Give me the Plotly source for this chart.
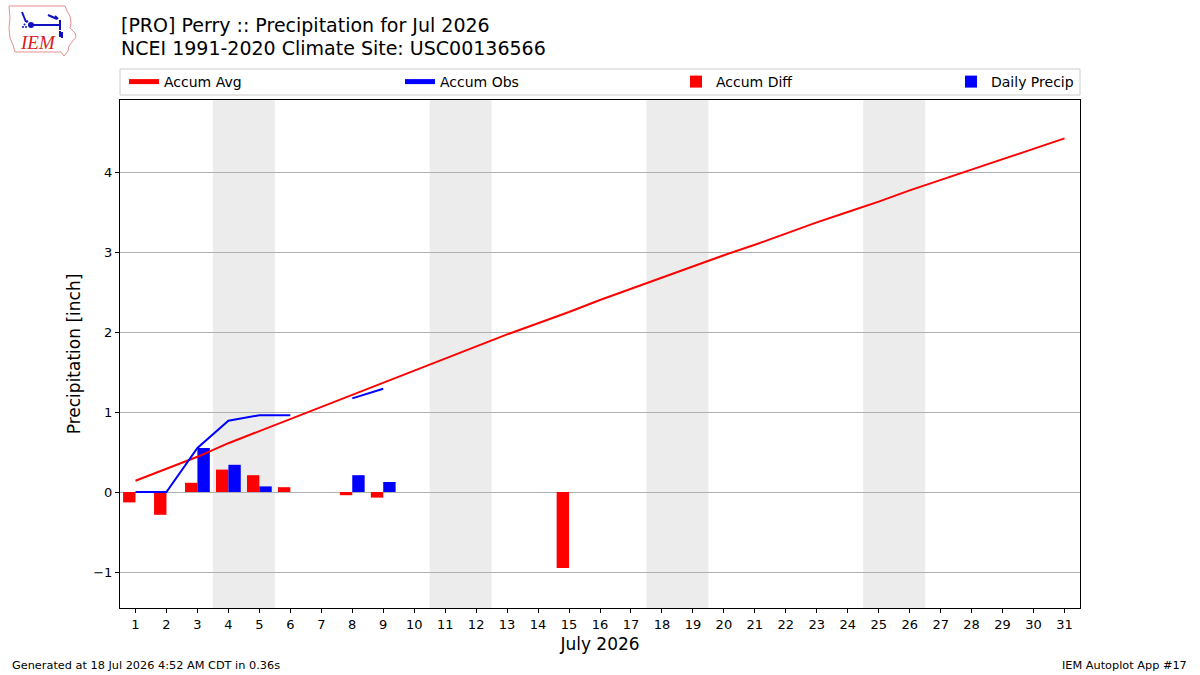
import plotly.graph_objects as go

days = list(range(1, 32))
accum_avg = [0.14, 0.29, 0.44, 0.61, 0.76, 0.91, 1.06, 1.21, 1.36, 1.52, 1.67, 1.82,
             1.97, 2.11, 2.25, 2.40, 2.54, 2.68, 2.82, 2.96, 3.09, 3.23, 3.37, 3.50,
             3.63, 3.77, 3.90, 4.03, 4.16, 4.29, 4.42]
accum_obs = [0.0, 0.0, 0.55, 0.89, 0.96, 0.96, None, 1.17, 1.29] + [None] * 22
accum_diff = [-0.13, -0.285, 0.115, 0.28, 0.21, 0.06, None, -0.04, -0.07,
              None, None, None, None, None, -0.95] + [None] * 16
daily_precip = [0.0, 0.0, 0.55, 0.34, 0.07, 0.0, None, 0.21, 0.125] + [None] * 22
weekend_spans = [(3.5, 5.5), (10.5, 12.5), (17.5, 19.5), (24.5, 26.5)]
xtick_labels = [str(d) for d in days]
yticks = [-1, 0, 1, 2, 3, 4]

title_lines = ["[PRO] Perry :: Precipitation for Jul 2026",
               "NCEI 1991-2020 Climate Site: USC00136566"]

W, H = 1200, 675
L, R, T, B = 120, 1080, 100, 608
FONT = "DejaVu Sans"


def px(x):
    return (x - L) / (R - L)


def py(y):
    return (B - y) / (B - T)


fig = go.Figure()

fig.add_trace(go.Bar(x=days, y=accum_diff, name="Accum Diff", width=0.4, offset=-0.4,
                     marker=dict(color="red", line=dict(width=0)), legendrank=3,
                     legend="legend"))
fig.add_trace(go.Bar(x=days, y=daily_precip, name="Daily Precip", width=0.4, offset=0,
                     marker=dict(color="blue", line=dict(width=0)), legendrank=4,
                     legend="legend2"))
fig.add_trace(go.Scatter(x=days, y=accum_avg, name="Accum Avg", mode="lines",
                         line=dict(color="red", width=2), legendrank=1, legend="legend"))
fig.add_trace(go.Scatter(x=days, y=accum_obs, name="Accum Obs", mode="lines",
                         line=dict(color="blue", width=2), connectgaps=False, legendrank=2,
                         legend="legend"))

shapes = []
for a, b in weekend_spans:
    shapes.append(dict(type="rect", xref="x", yref="paper", x0=a, x1=b, y0=0, y1=1,
                       fillcolor="#ececec", line=dict(width=0), layer="below"))

# legend frame
shapes.append(dict(type="rect", xref="paper", yref="paper", x0=px(120), x1=px(1080),
                   y0=py(95), y1=py(69), line=dict(color="#cccccc", width=1),
                   fillcolor="rgba(0,0,0,0)"))

# IEM logo approximation (Iowa outline + station glyph)
outline = [(9, 6), (65, 6), (67, 11), (70, 16), (71, 23), (70, 28), (75, 33), (76, 37),
           (72, 42), (69, 46), (68, 51), (64, 56), (61, 52), (15, 52), (13, 45), (10, 38),
           (9, 28), (10, 18)]
path = "M " + " L ".join(f"{px(x):.5f},{py(y):.5f}" for x, y in outline) + " Z"
shapes.append(dict(type="path", xref="paper", yref="paper", path=path,
                   line=dict(color="#e89090", width=1)))
glyph_lines = [(31, 25, 60, 25), (60, 20, 60, 30), (22, 12, 24, 17), (24, 17, 26, 22),
               (26, 22, 28, 21), (48, 15, 57, 19), (55, 16, 58, 19), (60, 31, 60, 37),
               (62, 32, 62, 38)]
for (x0, y0, x1, y1) in glyph_lines:
    shapes.append(dict(type="line", xref="paper", yref="paper", x0=px(x0), y0=py(y0),
                       x1=px(x1), y1=py(y1), line=dict(color="#1010c0", width=2)))
for (cx, cy, r) in [(31, 25, 3), (23, 27, 1), (26, 27, 1), (24.5, 24.5, 1)]:
    shapes.append(dict(type="circle", xref="paper", yref="paper", x0=px(cx - r),
                       x1=px(cx + r), y0=py(cy + r), y1=py(cy - r), fillcolor="#1010c0",
                       line=dict(width=0)))

annotations = [
    dict(text="<i>IEM</i>", xref="paper", yref="paper", x=px(38), y=py(43), showarrow=False,
         font=dict(family="Liberation Serif", size=19, color="#d82020"),
         xanchor="center", yanchor="middle"),
    dict(text=title_lines[0], xref="paper", yref="paper", x=px(119), y=py(25),
         showarrow=False, xanchor="left", yanchor="middle",
         font=dict(family=FONT, size=19, color="black")),
    dict(text=title_lines[1], xref="paper", yref="paper", x=px(119), y=py(48),
         showarrow=False, xanchor="left", yanchor="middle",
         font=dict(family=FONT, size=19, color="black")),
    dict(text="Generated at 18 Jul 2026 4:52 AM CDT in 0.36s", xref="paper", yref="paper",
         x=px(10), y=py(665), showarrow=False, xanchor="left", yanchor="middle",
         font=dict(family=FONT, size=11.3, color="black")),
    dict(text="IEM Autoplot App #17", xref="paper", yref="paper",
         x=px(1189), y=py(665), showarrow=False, xanchor="right", yanchor="middle",
         font=dict(family=FONT, size=11.3, color="black")),
]

legend_common = dict(orientation="h", yanchor="middle", y=py(82), xanchor="left",
                     borderwidth=0, bgcolor="rgba(0,0,0,0)",
                     font=dict(family=FONT, size=14), traceorder="normal",
                     itemsizing="constant")

fig.update_layout(
    width=W, height=H,
    margin=dict(l=L, r=W - R, t=T, b=H - B, pad=0),
    paper_bgcolor="white", plot_bgcolor="white",
    font=dict(family=FONT, size=13, color="black"),
    barmode="overlay",
    shapes=shapes,
    annotations=annotations,
    showlegend=True,
    legend=dict(x=px(124), entrywidth=231, entrywidthmode="pixels", **legend_common),
    legend2=dict(x=px(951), **legend_common),
    xaxis=dict(range=[0.5, 31.5], tickmode="array", tickvals=days, ticktext=xtick_labels,
               showgrid=False, zeroline=False, showline=True, linecolor="black",
               linewidth=1, mirror=True, ticks="outside", ticklen=4, tickcolor="black",
               title=dict(text="July 2026", font=dict(family=FONT, size=17), standoff=7),
               tickfont=dict(size=13)),
    yaxis=dict(range=[-1.45, 4.9], tickmode="array", tickvals=yticks,
               ticktext=["\u22121", "0", "1", "2", "3", "4"],
               showgrid=True, gridcolor="#b0b0b0", gridwidth=1, zeroline=False,
               showline=True, linecolor="black", linewidth=1, mirror=True,
               ticks="outside", ticklen=4, tickcolor="black",
               title=dict(text="Precipitation [inch]", font=dict(family=FONT, size=17),
                          standoff=8),
               tickfont=dict(size=13)),
)

fig.write_html("out.html")
